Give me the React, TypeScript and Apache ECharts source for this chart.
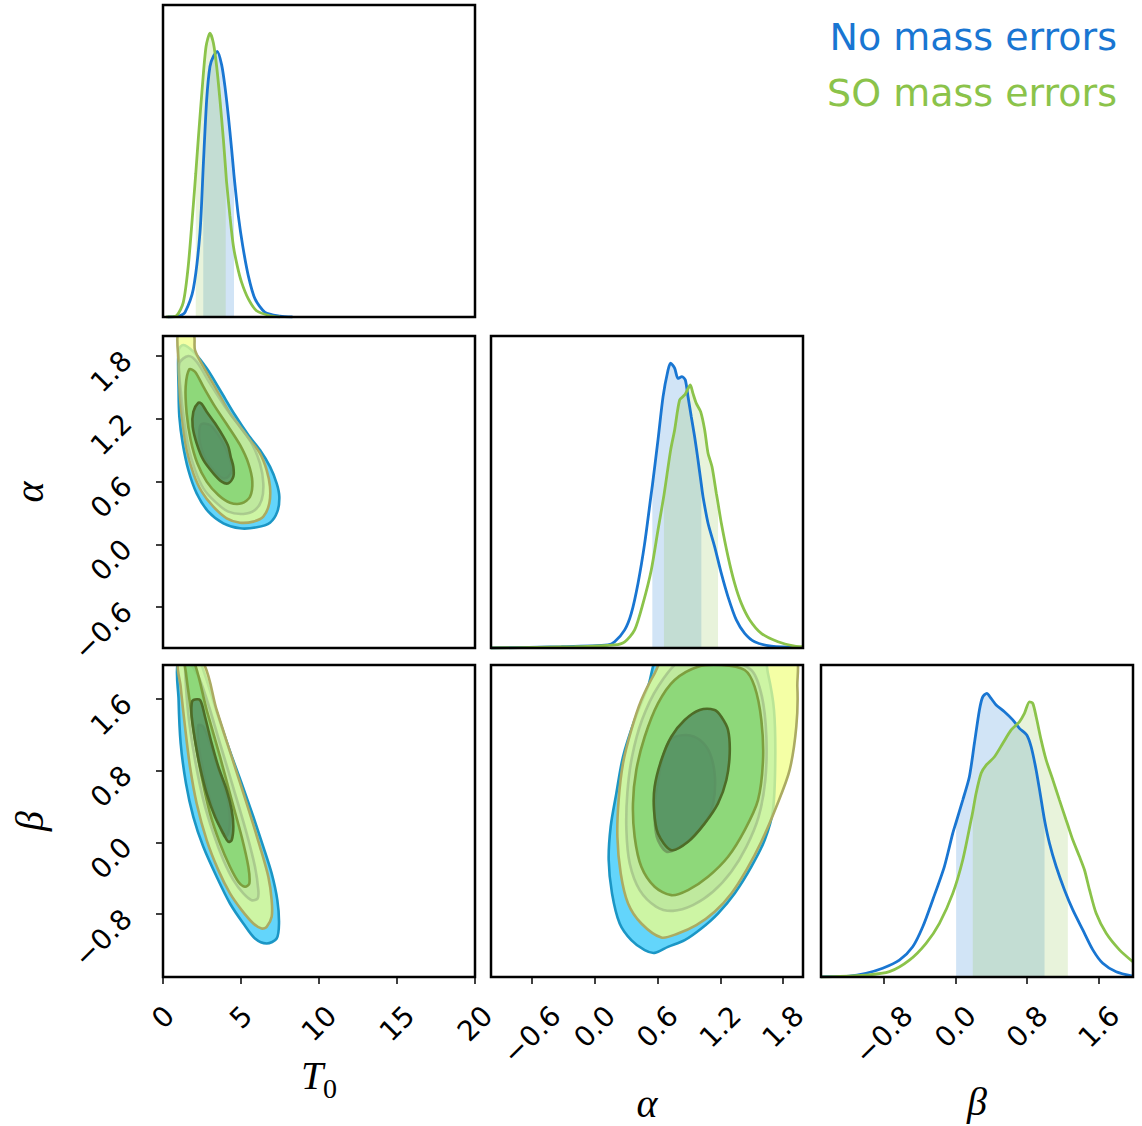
import React, { useEffect, useRef } from 'react';
import * as echarts from 'echarts';

// ---------------- data ----------------
const LEGEND_LABELS = ['No mass errors', 'SO mass errors'];

const T0_RANGE = [0, 20];
const ALPHA_RANGE = [-0.99, 1.99];
const BETA_RANGE = [-1.5, 1.98];
const T0_TICKS = [0, 5, 10, 15, 20];
const ALPHA_TICKS = [-0.6, 0, 0.6, 1.2, 1.8];
const BETA_TICKS = [-0.8, 0, 0.8, 1.6];

// 1D marginals: [value, relative density]
const T0_BLUE = [[0.3, 0], [0.8, 0.001], [1.09, 0.004], [1.41, 0.015], [1.94, 0.089], [2.37, 0.27], [2.58, 0.483], [2.8, 0.697], [3.01, 0.803], [3.23, 0.835], [3.48, 0.851], [3.76, 0.808], [3.97, 0.739], [4.19, 0.643], [4.4, 0.537], [4.55, 0.455], [4.62, 0.42], [4.83, 0.324], [5.11, 0.228], [5.47, 0.132], [5.9, 0.058], [6.54, 0.015], [7.5, 0.003], [8.3, 0]];
const T0_GREEN = [[0.2, 0], [0.88, 0.005], [1.3, 0.047], [1.62, 0.164], [1.94, 0.356], [2.1, 0.46], [2.26, 0.569], [2.54, 0.75], [2.76, 0.867], [3.01, 0.91], [3.23, 0.878], [3.44, 0.803], [3.65, 0.697], [3.87, 0.569], [4.02, 0.47], [4.08, 0.43], [4.29, 0.324], [4.51, 0.228], [4.76, 0.164], [5.04, 0.111], [5.47, 0.058], [6.0, 0.02], [6.86, 0.004], [7.5, 0]];
const ALPHA_BLUE = [[-0.99, 0], [-0.318, 0.004], [0.127, 0.01], [0.191, 0.02], [0.287, 0.058], [0.35, 0.111], [0.414, 0.207], [0.478, 0.336], [0.541, 0.496], [0.551, 0.52], [0.605, 0.667], [0.653, 0.805], [0.701, 0.891], [0.726, 0.913], [0.764, 0.897], [0.796, 0.864], [0.834, 0.87], [0.866, 0.859], [0.892, 0.805], [0.923, 0.741], [0.955, 0.677], [0.987, 0.603], [1.019, 0.524], [1.035, 0.485], [1.083, 0.4], [1.146, 0.325], [1.21, 0.239], [1.274, 0.164], [1.353, 0.09], [1.433, 0.047], [1.528, 0.02], [1.687, 0.006], [1.974, 0.002]];
const ALPHA_GREEN = [[-0.99, 0], [-0.191, 0.004], [0.191, 0.01], [0.287, 0.02], [0.382, 0.058], [0.462, 0.143], [0.541, 0.25], [0.605, 0.378], [0.662, 0.49], [0.726, 0.635], [0.764, 0.699], [0.812, 0.795], [0.86, 0.811], [0.885, 0.827], [0.914, 0.843], [0.939, 0.816], [0.971, 0.784], [1.013, 0.757], [1.051, 0.699], [1.083, 0.624], [1.121, 0.581], [1.162, 0.496], [1.178, 0.465], [1.21, 0.4], [1.274, 0.293], [1.337, 0.207], [1.401, 0.143], [1.481, 0.09], [1.592, 0.047], [1.751, 0.02], [1.91, 0.006], [1.99, 0.004]];
const BETA_BLUE = [[-1.5, 0], [-1.481, 0.001], [-1.184, 0.003], [-0.998, 0.012], [-0.812, 0.028], [-0.626, 0.054], [-0.477, 0.097], [-0.365, 0.161], [-0.254, 0.247], [-0.124, 0.354], [-0.03, 0.461], [0.007, 0.496], [0.081, 0.567], [0.155, 0.642], [0.211, 0.749], [0.267, 0.856], [0.304, 0.898], [0.349, 0.909], [0.397, 0.893], [0.453, 0.872], [0.546, 0.85], [0.639, 0.824], [0.713, 0.797], [0.795, 0.776], [0.844, 0.738], [0.9, 0.663], [0.944, 0.589], [0.993, 0.503], [1.048, 0.429], [1.123, 0.354], [1.216, 0.279], [1.309, 0.215], [1.42, 0.151], [1.532, 0.087], [1.643, 0.044], [1.792, 0.017], [1.978, 0.003]];
const BETA_GREEN = [[-1.5, 0], [-1.37, 0.001], [-0.998, 0.006], [-0.737, 0.017], [-0.514, 0.054], [-0.328, 0.108], [-0.179, 0.172], [-0.03, 0.268], [0.081, 0.375], [0.174, 0.503], [0.193, 0.53], [0.23, 0.589], [0.286, 0.653], [0.342, 0.679], [0.435, 0.706], [0.528, 0.749], [0.621, 0.792], [0.713, 0.818], [0.769, 0.845], [0.825, 0.882], [0.862, 0.877], [0.9, 0.834], [0.955, 0.76], [1.011, 0.696], [1.086, 0.632], [1.16, 0.567], [1.234, 0.503], [1.253, 0.487], [1.309, 0.439], [1.383, 0.386], [1.439, 0.343], [1.495, 0.279], [1.569, 0.204], [1.681, 0.14], [1.829, 0.087], [1.978, 0.049]];

// shaded credible intervals [lo, hi]
const T0_BAND_BLUE = [2.58, 4.55];
const T0_BAND_GREEN = [2.1, 4.02];
const ALPHA_BAND_BLUE = [0.551, 1.019];
const ALPHA_BAND_GREEN = [0.662, 1.178];
const BETA_BAND_BLUE = [0.007, 0.993];
const BETA_BAND_GREEN = [0.193, 1.253];

// 2D contours (x, y) — alpha vs T0
const AT_B1 = [[1.0, 1.856], [1.0, 1.474], [1.047, 1.22], [1.261, 0.965], [1.624, 0.71], [2.158, 0.487], [2.906, 0.312], [3.868, 0.201], [4.936, 0.153], [6.004, 0.163], [6.859, 0.207], [7.329, 0.312], [7.457, 0.455], [7.286, 0.583], [6.859, 0.742], [6.218, 0.901], [5.47, 1.044], [4.615, 1.235], [3.654, 1.474], [2.799, 1.681], [1.944, 1.84], [1.303, 1.904]];
const AT_G1 = [[1.0, 2.047], [1.944, 2.015], [2.051, 1.856], [2.585, 1.697], [3.44, 1.474], [4.295, 1.251], [4.936, 1.124], [5.577, 0.997], [6.218, 0.869], [6.645, 0.71], [6.859, 0.551], [6.816, 0.392], [6.431, 0.264], [5.791, 0.217], [4.936, 0.207], [4.081, 0.249], [3.226, 0.36], [2.479, 0.503], [1.944, 0.678], [1.517, 0.901], [1.261, 1.156], [1.09, 1.411], [1.0, 1.729]];
const AT_B2 = [[1.047, 1.729], [1.624, 1.799], [2.158, 1.745], [3.013, 1.538], [3.974, 1.315], [4.936, 1.124], [5.684, 0.965], [6.218, 0.774], [6.431, 0.583], [6.325, 0.424], [5.897, 0.328], [5.149, 0.29], [4.188, 0.312], [3.333, 0.408], [2.585, 0.535], [2.051, 0.71], [1.624, 0.933], [1.346, 1.188], [1.133, 1.474]];
const AT_G2 = [[1.688, 1.672], [2.051, 1.649], [2.585, 1.506], [3.333, 1.315], [4.188, 1.124], [4.936, 0.949], [5.47, 0.774], [5.726, 0.599], [5.577, 0.455], [5.043, 0.392], [4.295, 0.398], [3.547, 0.471], [2.799, 0.599], [2.201, 0.774], [1.774, 0.997], [1.517, 1.251], [1.453, 1.506]];
const AT_B3 = [[2.479, 1.15], [3.013, 1.14], [3.483, 1.06], [3.974, 0.933], [4.295, 0.806], [4.402, 0.71], [4.188, 0.646], [3.825, 0.631], [3.226, 0.71], [2.692, 0.822], [2.372, 0.965], [2.329, 1.092]];
const AT_G3 = [[2.265, 1.353], [1.944, 1.267], [1.902, 1.124], [2.158, 0.965], [2.585, 0.806], [3.226, 0.678], [3.761, 0.599], [4.188, 0.583], [4.508, 0.646], [4.508, 0.742], [4.338, 0.837], [4.188, 0.933], [3.868, 1.028], [3.333, 1.156], [2.799, 1.267], [2.479, 1.341]];

// beta vs T0
const BT_B1 = [[1.0, 2.036], [1.0, 1.589], [1.133, 1.106], [1.474, 0.659], [1.944, 0.287], [2.585, -0.048], [3.44, -0.382], [4.295, -0.68], [5.149, -0.903], [5.897, -1.071], [6.645, -1.126], [7.286, -1.071], [7.436, -0.903], [7.329, -0.643], [6.966, -0.345], [6.431, -0.048], [5.791, 0.287], [5.043, 0.659], [4.188, 1.069], [3.333, 1.515], [2.585, 1.924], [2.265, 2.036]];
const BT_G1 = [[1.0, 2.036], [2.479, 2.036], [3.44, 1.478], [4.402, 0.957], [5.363, 0.436], [6.218, -0.048], [6.752, -0.382], [6.966, -0.643], [6.966, -0.829], [6.645, -0.94], [6.325, -0.959], [5.791, -0.903], [5.043, -0.754], [4.295, -0.568], [3.547, -0.308], [2.799, 0.027], [2.158, 0.436], [1.731, 0.845], [1.41, 1.292], [1.133, 1.738]];
const BT_B2 = [[1.474, 2.036], [2.372, 1.813], [3.654, 1.106], [4.615, 0.548], [5.363, 0.101], [5.897, -0.271], [6.111, -0.531], [6.068, -0.624], [5.684, -0.643], [5.149, -0.568], [4.508, -0.42], [3.868, -0.196], [3.226, 0.101], [2.585, 0.473], [2.051, 0.92], [1.688, 1.329], [1.474, 1.738]];
const BT_G2 = [[1.41, 2.036], [1.944, 2.036], [2.799, 1.478], [3.654, 0.957], [4.402, 0.473], [5.043, 0.064], [5.47, -0.271], [5.534, -0.457], [5.256, -0.494], [4.829, -0.438], [4.295, -0.271], [3.654, -0.01], [3.013, 0.325], [2.479, 0.734], [2.051, 1.143], [1.731, 1.552], [1.474, 1.887]];
const BT_B3 = [[2.265, 1.31], [2.585, 1.292], [3.013, 1.106], [3.44, 0.883], [3.868, 0.659], [4.188, 0.436], [4.295, 0.25], [4.188, 0.101], [3.974, 0.064], [3.654, 0.176], [3.226, 0.362], [2.799, 0.622], [2.479, 0.883], [2.265, 1.106]];
const BT_G3 = [[1.944, 1.589], [2.372, 1.589], [2.692, 1.403], [3.12, 1.106], [3.547, 0.845], [4.081, 0.585], [4.402, 0.362], [4.508, 0.176], [4.402, 0.027], [4.188, 0.008], [3.868, 0.101], [3.333, 0.287], [2.799, 0.548], [2.372, 0.845], [2.051, 1.143], [1.838, 1.403], [1.838, 1.552]];

// beta vs alpha
const BA_B1 = [[0.637, 2.11], [0.509, 1.738], [0.382, 1.366], [0.271, 0.957], [0.207, 0.548], [0.153, 0.176], [0.134, -0.196], [0.166, -0.568], [0.239, -0.903], [0.35, -1.089], [0.478, -1.201], [0.573, -1.231], [0.7, -1.164], [0.86, -1.089], [1.019, -0.959], [1.178, -0.792], [1.337, -0.568], [1.496, -0.271], [1.624, 0.027], [1.703, 0.362], [1.725, 0.92], [1.713, 1.478], [1.655, 1.887], [1.592, 2.11]];
const BA_G1 = [[0.7, 2.11], [0.573, 1.887], [0.446, 1.589], [0.35, 1.255], [0.271, 0.883], [0.229, 0.473], [0.217, 0.064], [0.249, -0.345], [0.319, -0.68], [0.446, -0.903], [0.637, -1.059], [0.796, -1.015], [0.971, -0.922], [1.146, -0.773], [1.306, -0.568], [1.449, -0.308], [1.592, 0.008], [1.735, 0.399], [1.862, 0.808], [1.926, 1.292], [1.936, 1.738], [1.894, 2.11]];
const BA_B2 = [[0.828, 2.036], [0.605, 1.738], [0.452, 1.366], [0.357, 0.957], [0.312, 0.548], [0.303, 0.139], [0.335, -0.234], [0.43, -0.531], [0.589, -0.717], [0.748, -0.762], [0.939, -0.698], [1.13, -0.55], [1.305, -0.326], [1.449, -0.048], [1.566, 0.287], [1.63, 0.696], [1.64, 1.18], [1.598, 1.627], [1.496, 1.924], [1.21, 2.054]];
const BA_G2 = [[0.987, 1.961], [0.764, 1.813], [0.605, 1.552], [0.478, 1.18], [0.398, 0.808], [0.366, 0.436], [0.382, 0.064], [0.446, -0.271], [0.573, -0.494], [0.732, -0.587], [0.892, -0.531], [1.083, -0.382], [1.274, -0.159], [1.433, 0.138], [1.56, 0.473], [1.608, 0.92], [1.592, 1.366], [1.528, 1.738], [1.433, 1.924], [1.21, 1.98]];
const BA_B3 = [[0.736, 1.162], [0.879, 1.199], [1.006, 1.143], [1.102, 0.994], [1.149, 0.733], [1.133, 0.436], [1.07, 0.25], [0.942, 0.064], [0.815, -0.048], [0.688, -0.104], [0.593, 0.064], [0.576, 0.436], [0.624, 0.808], [0.672, 1.031]];
const BA_G3 = [[1.003, 1.478], [0.86, 1.366], [0.732, 1.18], [0.637, 0.92], [0.573, 0.622], [0.567, 0.362], [0.605, 0.101], [0.732, -0.085], [0.892, 0.008], [1.051, 0.213], [1.178, 0.436], [1.258, 0.697], [1.29, 0.994], [1.274, 1.255], [1.21, 1.403], [1.146, 1.478]];

// ---------------- style / layout ----------------
const W = 1142;
const H = 1126;
const BLUE = '#1976d2';
const GREEN = '#8bc34a';
const BLUE_BAND = 'rgba(26,120,210,0.2)';
const GREEN_BAND = 'rgba(139,195,74,0.2)';
const TICK_FONT = '"DejaVu Sans", sans-serif';
const MATH_FONT = '"Liberation Serif", "DejaVu Serif", serif';
const FS = 28;
const NAME_FS = 40;
const PANEL = 312;
const COL_X = [163, 491, 821];
const ROW_Y = [5, 336, 665];
const GRID_POS = [[0, 0], [1, 0], [1, 1], [2, 0], [2, 1], [2, 2]];

const LAYER_STYLE: Record<string, { fill: string; stroke: string }> = {
  B1: { fill: '#63d5fb', stroke: '#1b96c5' },
  G1: { fill: 'rgba(240,255,135,0.75)', stroke: '#abab62' },
  B2: { fill: 'rgba(150,200,140,0.25)', stroke: 'rgba(160,190,135,0.75)' },
  G2: { fill: 'rgba(125,210,110,0.75)', stroke: '#7d9f3e' },
  B3: { fill: 'rgba(90,150,95,0.55)', stroke: 'rgba(110,150,90,0.85)' },
  G3: { fill: 'rgba(85,145,100,0.8)', stroke: '#4e6c27' },
};

const CHAR_W: Record<string, number> = { '.': 0.318, '−': 0.838 };
const textW = (s: string) => [...s].reduce((a, c) => a + (CHAR_W[c] ?? 0.636), 0) * FS;
const fmtInt = (v: number) => String(Math.round(v));
const fmtDec = (v: number) => (v < -1e-9 ? '−' : '') + Math.abs(v).toFixed(1);

function hiddenAxis(gridIndex: number, range: number[]) {
  return {
    type: 'value', gridIndex, min: range[0], max: range[1],
    axisLine: { show: false, onZero: false }, splitLine: { show: false },
    axisTick: { show: false }, axisLabel: { show: false },
  };
}

function xLabeled(gridIndex: number, range: number[], ticks: number[], fmt: (v: number) => string, name: any, nameGap: number, rich: any) {
  const labelRich: any = {};
  ticks.forEach((t, i) => {
    const p = textW(fmt(t)) / 2;
    labelRich['k' + i] = { fontSize: FS, fontFamily: TICK_FONT, color: '#000', padding: [p, p, 0, 0] };
  });
  return {
    ...hiddenAxis(gridIndex, range),
    position: 'bottom',
    axisTick: { show: true, inside: false, length: 7, lineStyle: { color: '#000', width: 1.5 }, customValues: ticks },
    axisLabel: {
      show: true, rotate: 45, align: 'center', verticalAlign: 'middle', margin: 34,
      customValues: ticks, rich: labelRich,
      formatter: (v: number) => {
        const i = ticks.findIndex((t) => Math.abs(t - v) < 1e-6);
        return `{k${i}|${fmt(v)}}`;
      },
    },
    name, nameLocation: 'middle', nameGap,
    nameTextStyle: { fontFamily: MATH_FONT, fontStyle: 'italic', fontSize: NAME_FS, color: '#000', rich },
  };
}

function yLabeled(gridIndex: number, range: number[], ticks: number[], name: string) {
  return {
    ...hiddenAxis(gridIndex, range),
    position: 'left',
    axisTick: { show: true, inside: false, length: 7, lineStyle: { color: '#000', width: 1.5 }, customValues: ticks },
    axisLabel: {
      show: true, rotate: 45, align: 'right', verticalAlign: 'middle', margin: 36,
      customValues: ticks, fontSize: FS, fontFamily: TICK_FONT, color: '#000', formatter: fmtDec,
    },
    name, nameLocation: 'middle', nameGap: 114, nameRotate: 90,
    nameTextStyle: { fontFamily: MATH_FONT, fontStyle: 'italic', fontSize: NAME_FS, color: '#000' },
  };
}

function marginalSeries(g: number, blue: number[][], green: number[][], bb: number[], gb: number[]) {
  const band = (pts: number[][], b: number[]) => pts.filter(([x]) => x >= b[0] - 1e-9 && x <= b[1] + 1e-9);
  const common = { type: 'line', xAxisIndex: g, yAxisIndex: g, symbol: 'none', showSymbol: false, smooth: 0.25, silent: true, animation: false };
  return [
    { ...common, name: LEGEND_LABELS[0] + ' band', data: band(blue, bb), lineStyle: { width: 0, opacity: 0 }, areaStyle: { color: BLUE_BAND, opacity: 1 }, itemStyle: { color: BLUE }, z: 2 },
    { ...common, name: LEGEND_LABELS[1] + ' band', data: band(green, gb), lineStyle: { width: 0, opacity: 0 }, areaStyle: { color: GREEN_BAND, opacity: 1 }, itemStyle: { color: GREEN }, z: 2 },
    { ...common, name: LEGEND_LABELS[0], data: blue, lineStyle: { color: BLUE, width: 2.8 }, itemStyle: { color: BLUE }, z: 3 },
    { ...common, name: LEGEND_LABELS[1], data: green, lineStyle: { color: GREEN, width: 2.8 }, itemStyle: { color: GREEN }, z: 3 },
  ];
}

function contourSeries(g: number, layers: [string, number[][]][]) {
  return layers.map(([key, pts]) => {
    const st = LAYER_STYLE[key];
    return {
      type: 'custom', coordinateSystem: 'cartesian2d', xAxisIndex: g, yAxisIndex: g,
      clip: true, silent: true, z: 2, data: pts,
      renderItem: (params: any, api: any) => {
        if (params.dataIndex !== 0) return null;
        const points = pts.map((p) => api.coord(p));
        return {
          type: 'polygon',
          shape: { points, smooth: 0.3 },
          style: { fill: st.fill, stroke: st.stroke, lineWidth: 2.6, lineJoin: 'round' },
        };
      },
    };
  });
}

function buildOption() {
  const t0Rich = {
    t: { fontFamily: MATH_FONT, fontStyle: 'italic', fontSize: NAME_FS, color: '#000', padding: [0, 0, 7, 0], verticalAlign: 'bottom' },
    s: { fontFamily: MATH_FONT, fontStyle: 'normal', fontSize: 28, color: '#000', verticalAlign: 'bottom' },
  };
  const grid = GRID_POS.map(([r, c]) => ({ left: COL_X[c], top: ROW_Y[r], width: PANEL, height: PANEL, show: false, containLabel: false, outerBoundsMode: 'none' }));

  const xAxis = [
    hiddenAxis(0, T0_RANGE),
    hiddenAxis(1, T0_RANGE),
    hiddenAxis(2, ALPHA_RANGE),
    xLabeled(3, T0_RANGE, T0_TICKS, fmtInt, '{t|T}{s|0}', 78, t0Rich),
    xLabeled(4, ALPHA_RANGE, ALPHA_TICKS, fmtDec, 'α', 106, undefined),
    xLabeled(5, BETA_RANGE, BETA_TICKS, fmtDec, 'β', 104, undefined),
  ];
  const yAxis = [
    hiddenAxis(0, [0, 1]),
    yLabeled(1, ALPHA_RANGE, ALPHA_TICKS, 'α'),
    hiddenAxis(2, [0, 1]),
    yLabeled(3, BETA_RANGE, BETA_TICKS, 'β'),
    hiddenAxis(4, BETA_RANGE),
    hiddenAxis(5, [0, 1]),
  ];

  const series = [
    ...marginalSeries(0, T0_BLUE, T0_GREEN, T0_BAND_BLUE, T0_BAND_GREEN),
    ...contourSeries(1, [['B1', AT_B1], ['G1', AT_G1], ['B2', AT_B2], ['G2', AT_G2], ['B3', AT_B3], ['G3', AT_G3]]),
    ...marginalSeries(2, ALPHA_BLUE, ALPHA_GREEN, ALPHA_BAND_BLUE, ALPHA_BAND_GREEN),
    ...contourSeries(3, [['B1', BT_B1], ['G1', BT_G1], ['B2', BT_B2], ['G2', BT_G2], ['B3', BT_B3], ['G3', BT_G3]]),
    ...contourSeries(4, [['B1', BA_B1], ['G1', BA_G1], ['B2', BA_B2], ['G2', BA_G2], ['B3', BA_B3], ['G3', BA_G3]]),
    ...marginalSeries(5, BETA_BLUE, BETA_GREEN, BETA_BAND_BLUE, BETA_BAND_GREEN),
  ];

  const frames = GRID_POS.map(([r, c]) => ({
    type: 'rect', z: 100, silent: true,
    shape: { x: COL_X[c], y: ROW_Y[r], width: PANEL, height: PANEL },
    style: { fill: 'none', stroke: '#000', lineWidth: 2.5 },
  }));
  const legend = LEGEND_LABELS.map((label, i) => ({
    type: 'text', z: 100, silent: true, x: 1117, y: 37 + i * 56,
    style: { text: label, fill: i === 0 ? BLUE : GREEN, font: `38px ${TICK_FONT}`, fontSize: 38, fontFamily: TICK_FONT, textAlign: 'right', align: 'right', textVerticalAlign: 'middle', verticalAlign: 'middle' },
  }));

  return {
    animation: false,
    backgroundColor: '#ffffff',
    grid, xAxis, yAxis, series,
    graphic: { elements: [...frames, ...legend] },
  };
}

export default function App() {
  const ref = useRef<HTMLDivElement>(null);
  useEffect(() => {
    const chart = echarts.init(ref.current!, null, { renderer: 'svg' });
    chart.setOption(buildOption() as any);
    return () => chart.dispose();
  }, []);
  return <div ref={ref} style={{ position: 'fixed', left: 0, top: 0, width: W, height: H, background: '#fff' }} />;
}
